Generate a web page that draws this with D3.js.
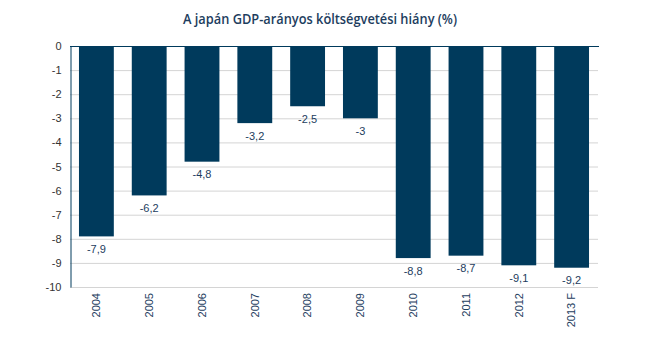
<!DOCTYPE html>
<html><head><meta charset="utf-8">
<script src="https://cdn.jsdelivr.net/npm/d3@7"></script>
<style>body{margin:0;background:#fff}svg{display:block}</style>
</head><body>
<script>
const categories = ["2004","2005","2006","2007","2008","2009","2010","2011","2012","2013 F"];
const values = [-7.9,-6.2,-4.8,-3.2,-2.5,-3,-8.8,-8.7,-9.1,-9.2];
const yTicks = [0,-1,-2,-3,-4,-5,-6,-7,-8,-9,-10];
const title = "A japán GDP-arányos költségvetési hiány (%)";

const W=645,H=351;
const m={left:70,right:47,top:46,bottom:64};
const svg=d3.select("body").append("svg").attr("width",W).attr("height",H);
const x=d3.scaleBand().domain(categories).range([m.left,W-m.right]).paddingInner(0.34).paddingOuter(0.17);
const y=d3.scaleLinear().domain([0,-10]).range([m.top,H-m.bottom]);
const navy="#003a5c";

svg.append("text").attr("x",183).attr("y",24).attr("text-anchor","start")
  .attr("font-family","Open Sans, DejaVu Sans").attr("font-weight",600).attr("font-size",14.5)
  .attr("textLength",274).attr("lengthAdjust","spacingAndGlyphs")
  .attr("fill","#1d3d5e").text(title);

// gridlines
svg.append("g").selectAll("line").data(yTicks.filter(d=>d!==0)).join("line")
  .attr("x1",m.left).attr("x2",W-m.right).attr("y1",d=>y(d)+0.5).attr("y2",d=>y(d)+0.5)
  .attr("stroke","#d4d4d4").attr("stroke-width",1);

// bars
svg.append("g").selectAll("rect").data(values).join("rect")
  .attr("x",(d,i)=>x(categories[i])).attr("width",x.bandwidth())
  .attr("y",y(0)).attr("height",d=>y(d)-y(0)).attr("fill",navy);

// y axis
const yAxis=d3.axisLeft(y).tickValues(yTicks).tickSize(0).tickPadding(9).tickFormat(d=>String(d));
const ga=svg.append("g").attr("transform",`translate(${m.left+0.5},0)`).call(yAxis);
ga.select(".domain").attr("stroke",navy);
ga.selectAll("text").attr("font-family","Liberation Sans, Arial").attr("font-size",11).attr("fill","#333");

// zero line
svg.append("line").attr("x1",m.left).attr("x2",W-m.right+1).attr("y1",y(0)+0.5).attr("y2",y(0)+0.5).attr("stroke",navy);

// value labels
svg.append("g").selectAll("text").data(values).join("text")
  .attr("x",(d,i)=>x(categories[i])+x.bandwidth()/2).attr("y",d=>y(d)+16.5)
  .attr("text-anchor","middle").attr("font-family","Liberation Sans, Arial").attr("font-size",11)
  .attr("fill","#1d3d5e").text(d=>String(d).replace(".",","));

// x labels
const xAxis=d3.axisBottom(x).tickSize(0).tickPadding(0);
const gx=svg.append("g").attr("transform",`translate(0,${y(-10)})`).call(xAxis);
gx.select(".domain").remove();
gx.selectAll("text").attr("font-family","Liberation Sans, Arial").attr("font-size",11).attr("fill","#1d3d5e")
  .attr("transform","rotate(-90)").attr("text-anchor","end").attr("dy","0.35em").attr("x",-6).attr("y",0);
</script>
</body></html>
